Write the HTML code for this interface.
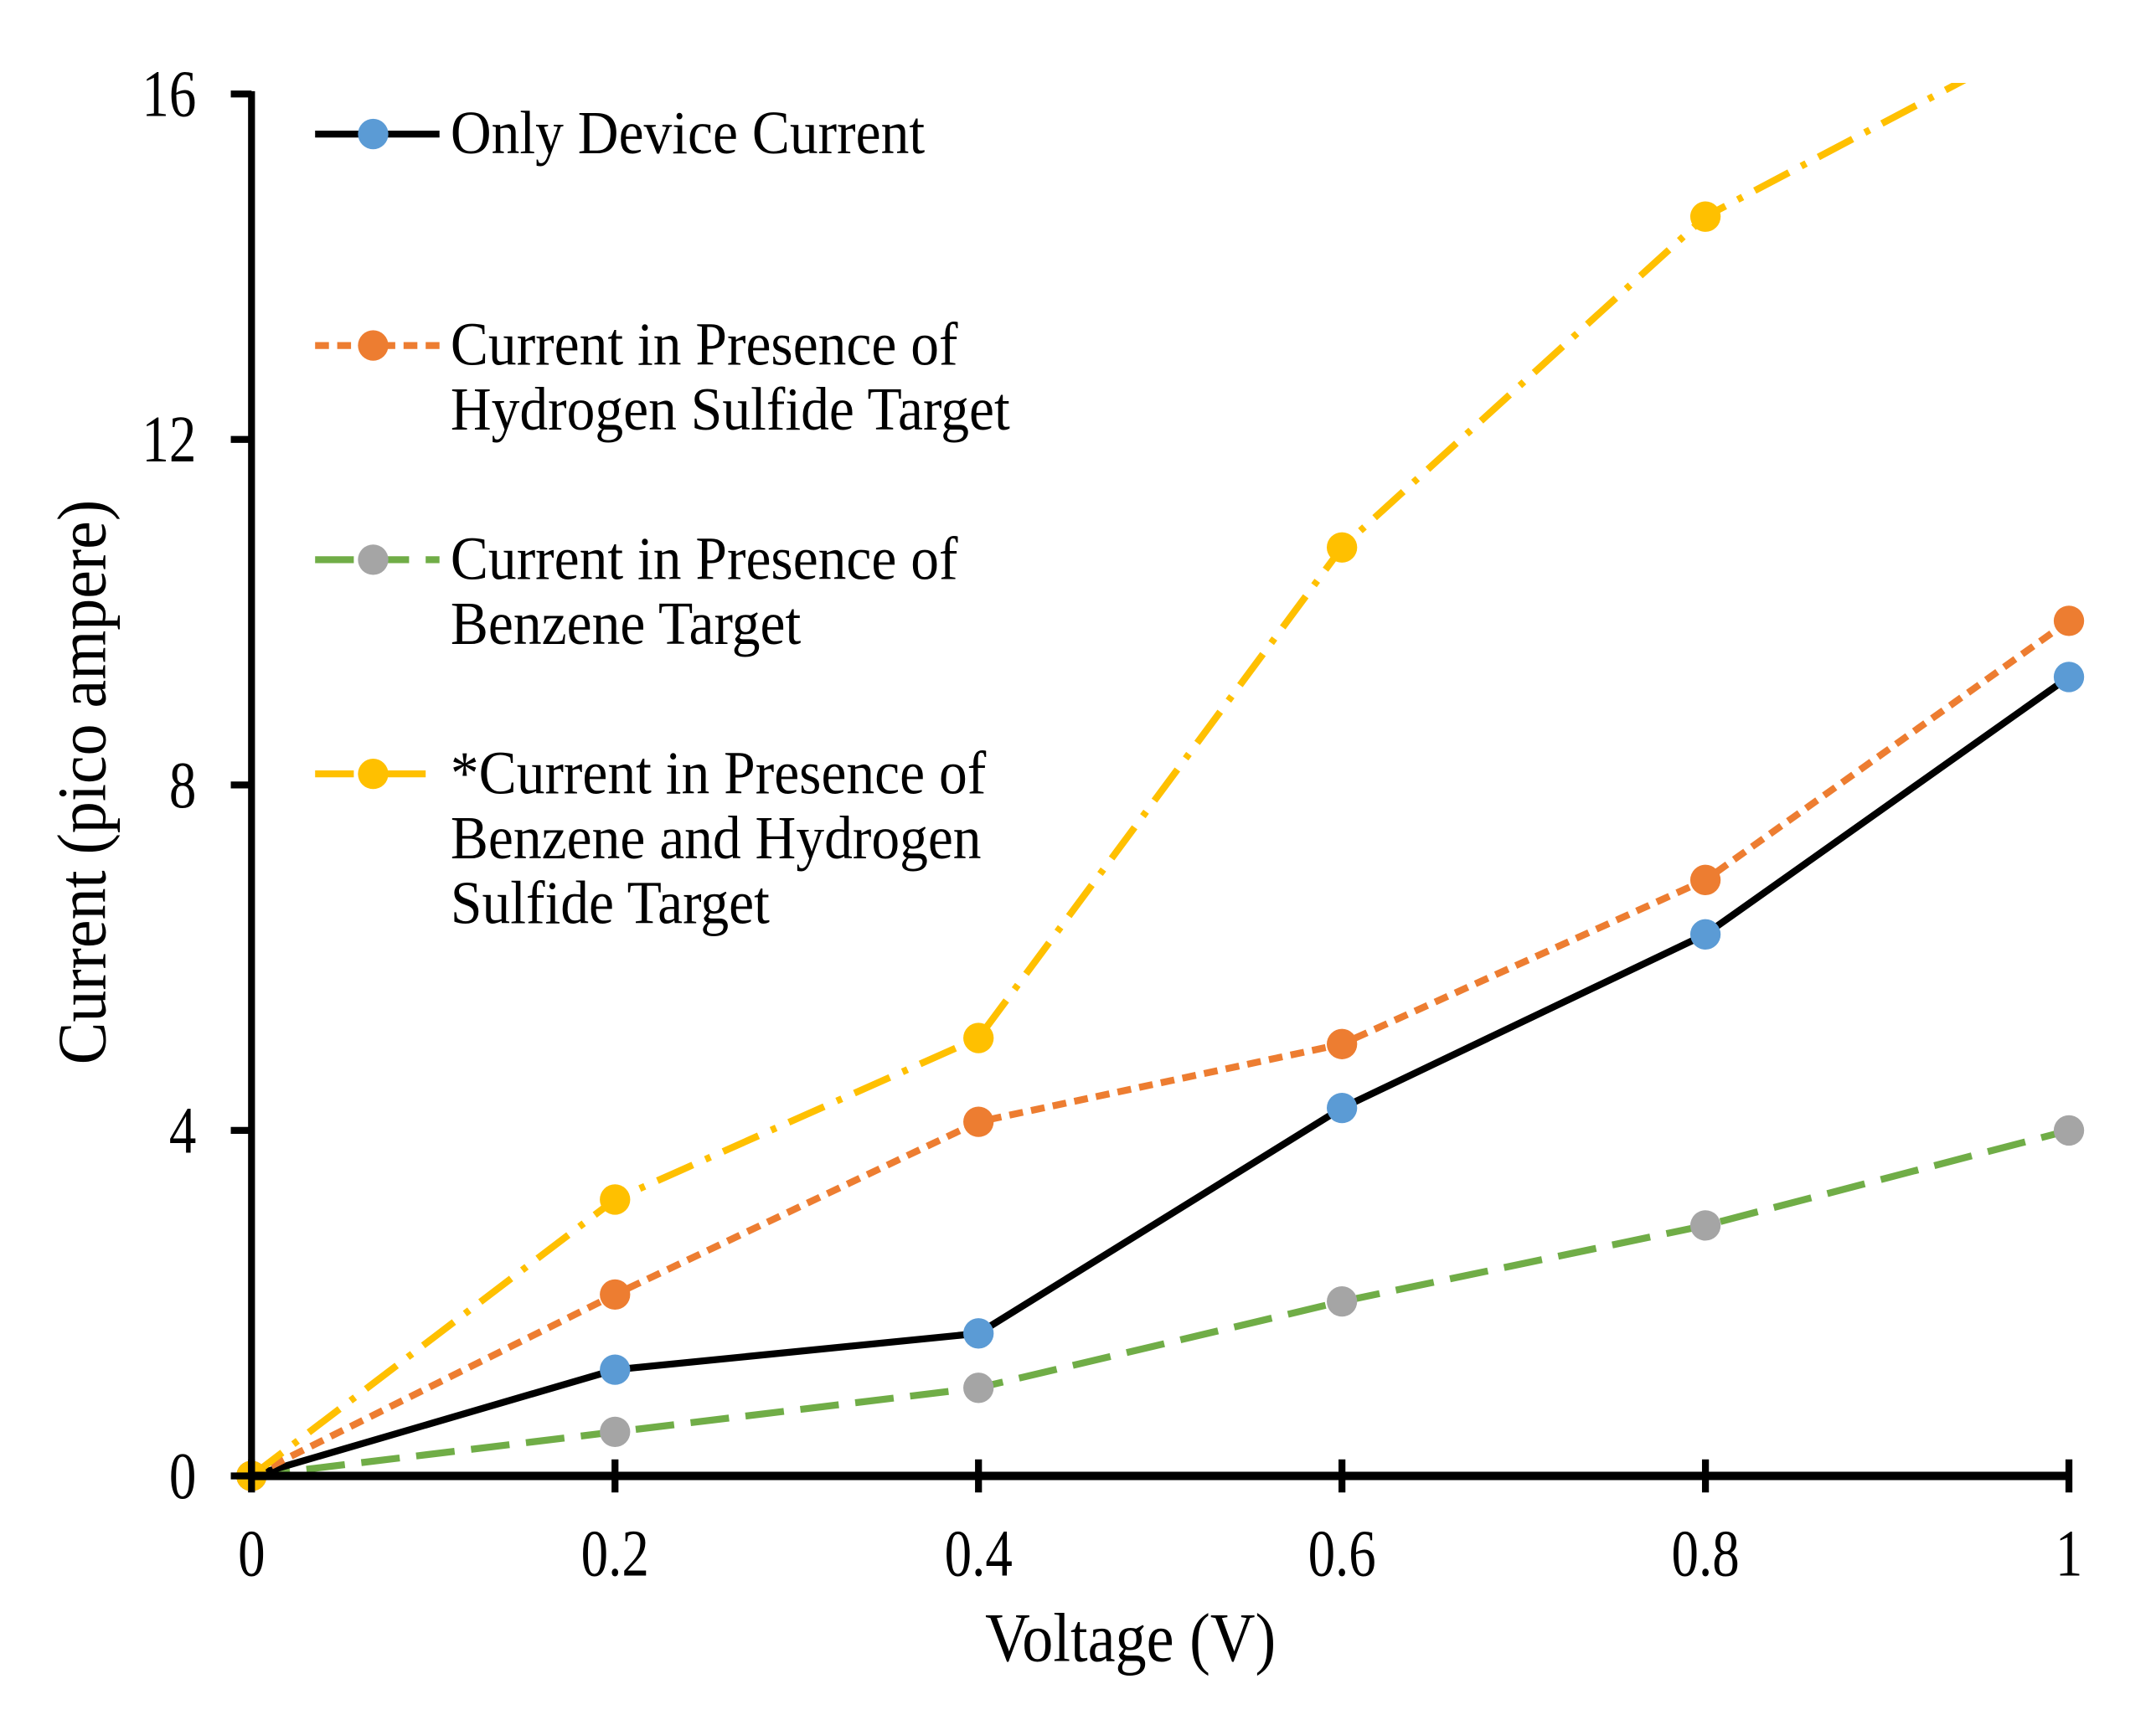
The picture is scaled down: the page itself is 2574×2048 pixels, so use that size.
<!DOCTYPE html>
<html><head><meta charset="utf-8">
<style>
html,body{margin:0;padding:0;background:#fff;}
svg{display:block;}
text{font-family:"Liberation Serif",serif;fill:#000;}
</style></head>
<body>
<svg id="chart" width="2574" height="2048" viewBox="0 0 1560 1241" preserveAspectRatio="none" xmlns="http://www.w3.org/2000/svg">
<defs><clipPath id="plotclip"><rect x="150" y="60" width="1380" height="1020"/></clipPath></defs>
<g id="series" clip-path="url(#plotclip)"></g>
<g id="axes"></g>
<g id="legend"></g>
</svg>
<script>
const voltages = [0, 0.2, 0.4, 0.6, 0.8, 1.0];
const onlyDevice = [0, 1.23, 1.65, 4.26, 6.27, 9.25];
const h2sTarget = [0, 2.1, 4.1, 5.0, 6.9, 9.9];
const benzeneTarget = [0, 0.51, 1.02, 2.02, 2.9, 4.0];
const bothTarget = [0, 3.2, 5.07, 10.75, 14.58, 16.8];
const xTicks = [0, 0.2, 0.4, 0.6, 0.8, 1];
const xTickLabels = ["0", "0.2", "0.4", "0.6", "0.8", "1"];
const yTicks = [0, 4, 8, 12, 16];
const yTickLabels = ["0", "4", "8", "12", "16"];

const NS = "http://www.w3.org/2000/svg";
const X0 = 182, X1 = 1497, Y0 = 1068, Y1 = 68;
function xScale(v){ return X0 + v * (X1 - X0); }
function yScale(v){ return Y0 - v / 16 * (Y0 - Y1); }
function mk(tag, attrs, parent){
  const e = document.createElementNS(NS, tag);
  for (const k in attrs) e.setAttribute(k, attrs[k]);
  parent.appendChild(e);
  return e;
}
function txt(parent, x, y, s, size, sx, anchor, rot){
  const t = mk('text', {x: 0, y: 0, "font-size": size, "text-anchor": anchor || "start",
    transform: "translate(" + x + "," + y + ")" + (rot ? " rotate(" + rot + ")" : "") + " scale(" + sx + ",1)"}, parent);
  t.textContent = s;
  return t;
}
const axes = document.getElementById('axes');
const seriesG = document.getElementById('series');
const legend = document.getElementById('legend');

const seriesDefs = [
  {vals: benzeneTarget, line: "#70ad47", marker: "#a5a5a5", dash: "28 12", name: "series-benzene"},
  {vals: onlyDevice, line: "#000000", marker: "#5b9bd5", dash: "", name: "series-only-device"},
  {vals: h2sTarget, line: "#ed7d31", marker: "#ed7d31", dash: "10 6", name: "series-hydrogen-sulfide"},
  {vals: bothTarget, line: "#ffc000", marker: "#ffc000", dash: "28 10 4 10", name: "series-benzene-and-h2s"}
];
seriesDefs.forEach(s => {
  const pts = voltages.map((v,i) => xScale(v) + "," + yScale(s.vals[i])).join(" ");
  const pl = mk('polyline', {points: pts, fill: "none", stroke: s.line, "stroke-width": 5, "stroke-dasharray": s.dash}, seriesG);
  
  
});
seriesDefs.forEach(s => {
  voltages.forEach((v,i) => {
    const c = mk('circle', {cx: xScale(v), cy: yScale(s.vals[i]), r: 11, fill: s.marker}, seriesG);
    
    
  });
});

const ya = mk('line', {x1: X0, y1: Y0, x2: X0, y2: Y1 - 2, stroke: "#000", "stroke-width": 5}, axes);


const xa = mk('line', {x1: X0 - 2, y1: Y0, x2: X1 + 2, y2: Y0, stroke: "#000", "stroke-width": 6}, axes);


yTicks.forEach((t,i) => {
  const y = yScale(t);
  const tk = mk('line', {x1: X0 - 15, y1: y, x2: X0, y2: y, stroke: "#000", "stroke-width": 5}, axes);
  
  
  const tx = txt(axes, 142, y + 16, yTickLabels[i], 48, 0.82, "end");
  
  
});
xTicks.forEach((t,i) => {
  const x = xScale(t);
  const tk = mk('line', {x1: x, y1: Y0 - 12, x2: x, y2: Y0 + 12, stroke: "#000", "stroke-width": 5}, axes);
  
  
  const tx = txt(axes, x, 1140, xTickLabels[i], 48, 0.82, "middle");
  
  
});
const xt = txt(axes, 818, 1202, "Voltage (V)", 50, 0.9, "middle");


const yt = txt(axes, 76, 566, "Current (pico ampere)", 50, 0.92, "middle", -90);



const legendEntries = [
  {y: 97, lines: ["Only Device Current"], s: seriesDefs[1]},
  {y: 250, lines: ["Current in Presence of", "Hydrogen Sulfide Target"], s: seriesDefs[2]},
  {y: 405, lines: ["Current in Presence of", "Benzene Target"], s: seriesDefs[0]},
  {y: 560, lines: ["*Current in Presence of", "Benzene and Hydrogen", "Sulfide Target"], s: seriesDefs[3]}
];
legendEntries.forEach(en => {
  const g = mk('g', {}, legend);
  
  
  mk('line', {x1: 228, y1: en.y, x2: 318, y2: en.y, stroke: en.s.line, "stroke-width": 5, "stroke-dasharray": en.s.dash}, g);
  mk('circle', {cx: 270, cy: en.y, r: 11, fill: en.s.marker}, g);
  en.lines.forEach((ln, j) => {
    txt(g, 326, en.y + 14 + j * 47, ln, 44, 0.93, "start");
  });
});
</script>
</body></html>
